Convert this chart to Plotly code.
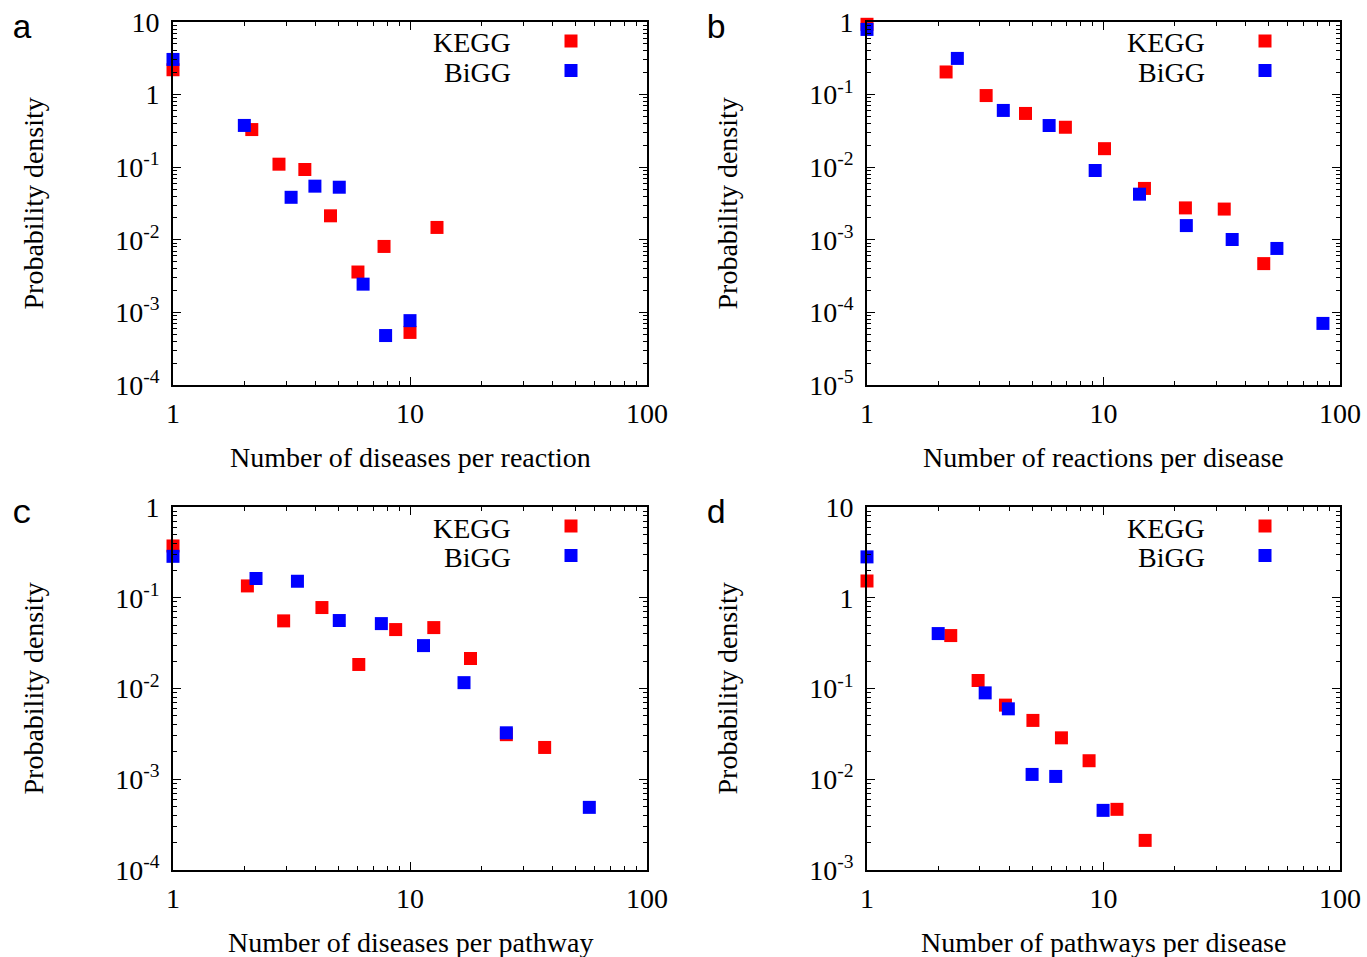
import numpy as np
import plotly.graph_objects as go

W, H = 1367, 957

# ---------------- data ----------------
# panel a: Number of diseases per reaction
a_kegg_x = [1, 2.15, 2.8, 3.6, 4.62, 6.03, 7.77, 10, 13.0]
a_kegg_y = [2.2, 0.33, 0.11, 0.093, 0.0214, 0.0036, 0.0081, 0.00053, 0.0148]
a_bigg_x = [1, 2.0, 3.15, 3.97, 5.03, 6.34, 7.89, 10]
a_bigg_y = [3.05, 0.376, 0.0385, 0.0548, 0.053, 0.00245, 0.00048, 0.00077]

# panel b: Number of reactions per disease
b_kegg_x = [1, 2.16, 3.19, 4.68, 6.9, 10.1, 14.9, 22.2, 32.4, 47.6]
b_kegg_y = [0.93, 0.205, 0.097, 0.055, 0.0355, 0.018, 0.0051, 0.00275, 0.00265, 0.00047]
b_bigg_x = [1, 2.41, 3.77, 5.89, 9.22, 14.2, 22.4, 35.0, 54.1, 84.7]
b_bigg_y = [0.79, 0.315, 0.0605, 0.0375, 0.009, 0.00425, 0.00157, 0.00101, 0.00076, 0.0000705]

# panel c: Number of diseases per pathway
c_kegg_x = [1, 2.06, 2.93, 4.25, 6.08, 8.70, 12.6, 18.0, 25.5, 37.0]
c_kegg_y = [0.372, 0.135, 0.0556, 0.078, 0.0184, 0.0446, 0.0469, 0.0214, 0.0031, 0.00224]
c_bigg_x = [1, 2.24, 3.35, 5.03, 7.57, 11.4, 16.9, 25.5, 57.1]
c_bigg_y = [0.286, 0.163, 0.152, 0.0561, 0.0519, 0.0297, 0.0116, 0.00325, 0.00049]

# panel d: Number of pathways per disease
d_kegg_x = [1, 2.26, 2.95, 3.85, 5.03, 6.64, 8.69, 11.4, 15.0]
d_kegg_y = [1.53, 0.383, 0.1225, 0.0656, 0.0445, 0.0286, 0.016, 0.00466, 0.00212]
d_bigg_x = [1, 2.0, 3.16, 3.96, 4.99, 6.28, 9.96]
d_bigg_y = [2.82, 0.403, 0.0895, 0.0597, 0.0113, 0.01074, 0.00454]

panel_letters = ["a", "b", "c", "d"]
x_titles = ["Number of diseases per reaction", "Number of reactions per disease",
            "Number of diseases per pathway", "Number of pathways per disease"]
y_title = "Probability density"
series_names = ["KEGG", "BiGG"]
series_colors = ["#ff0000", "#0000ff"]
x_exp_range = [0, 2]
y_exp_ranges = [[-4, 1], [-5, 0], [-4, 0], [-3, 1]]

# ---------------- layout geometry (screen pixels) ----------------
boxes = [(173, 647, 22, 385), (867, 1340, 22, 385),
         (173, 647, 507, 870), (867, 1340, 507, 870)]

SERIF = "Liberation Serif"
MONO = "Liberation Mono"


def fx(px):
    return px / W


def fy(py):
    return 1 - py / H


def dec_label(k):
    if k == 0:
        return "1"
    if k == 1:
        return "10"
    if k == 2:
        return "100"
    return "10<sup>%d</sup>" % k


def minor_vals(lo, hi):
    vals = []
    for k in range(lo, hi):
        for m in range(2, 10):
            vals.append(m * 10.0 ** k)
    return vals


data = [
    (a_kegg_x, a_kegg_y, a_bigg_x, a_bigg_y),
    (b_kegg_x, b_kegg_y, b_bigg_x, b_bigg_y),
    (c_kegg_x, c_kegg_y, c_bigg_x, c_bigg_y),
    (d_kegg_x, d_kegg_y, d_bigg_x, d_bigg_y),
]

fig = go.Figure()
layout = dict(
    width=W, height=H,
    margin=dict(l=0, r=0, t=0, b=0, pad=0),
    paper_bgcolor="white", plot_bgcolor="white",
    showlegend=False,
    font=dict(family=SERIF, size=28, color="black"),
)
annotations = []
shapes = []

for i, (box, (kx, ky, bx, by)) in enumerate(zip(boxes, data)):
    n = i + 1
    xs = "" if n == 1 else str(n)
    l, r, t, b = box
    ylo, yhi = y_exp_ranges[i]
    for name, color, xx, yy in [(series_names[0], series_colors[0], kx, ky),
                                (series_names[1], series_colors[1], bx, by)]:
        fig.add_trace(go.Scatter(
            x=xx, y=yy, mode="markers", name=name,
            xaxis="x" + xs, yaxis="y" + xs,
            marker=dict(symbol="square", size=13, color=color, line=dict(width=0)),
            cliponaxis=False,
        ))
    common = dict(
        type="log", ticks="inside", ticklen=8, tickwidth=1.2, tickcolor="black",
        showline=True, linewidth=1.6, linecolor="black", mirror="ticks",
        showgrid=False, zeroline=False, automargin=False,
        ticklabeloverflow="allow",
        tickfont=dict(family=SERIF, size=28, color="black"),
    )
    layout["xaxis" + xs] = dict(
        common, range=x_exp_range, domain=[fx(l), fx(r)], anchor="y" + xs,
        tickvals=[10.0 ** k for k in range(x_exp_range[0], x_exp_range[1] + 1)],
        ticktext=[dec_label(k) for k in range(x_exp_range[0], x_exp_range[1] + 1)],
        minor=dict(tickvals=minor_vals(x_exp_range[0], x_exp_range[1]), ticks="inside",
                   ticklen=4, tickwidth=1, tickcolor="black"),
        ticklabelstandoff=3,
    )
    layout["yaxis" + xs] = dict(
        common, range=[ylo, yhi], domain=[fy(b), fy(t)], anchor="x" + xs,
        tickvals=[10.0 ** k for k in range(ylo, yhi + 1)],
        ticktext=[dec_label(k) for k in range(ylo, yhi + 1)],
        minor=dict(tickvals=minor_vals(ylo, yhi), ticks="inside",
                   ticklen=4, tickwidth=1, tickcolor="black"),
        ticklabelstandoff=6,
    )
    # axis titles
    annotations.append(dict(
        text=x_titles[i], xref="paper", yref="paper",
        x=fx((l + r) / 2), y=fy(b + 72), xanchor="center", yanchor="middle",
        showarrow=False, font=dict(family=SERIF, size=28, color="black")))
    annotations.append(dict(
        text=y_title, xref="paper", yref="paper", textangle=-90,
        x=fx(l - 140), y=fy((t + b) / 2), xanchor="center", yanchor="middle",
        showarrow=False, font=dict(family=SERIF, size=28, color="black")))
    # panel letter
    annotations.append(dict(
        text=panel_letters[i], xref="paper", yref="paper",
        x=fx(l - 151), y=fy(t + 7), xanchor="center", yanchor="middle",
        showarrow=False, font=dict(family=MONO, size=34, color="black")))
    # legend (text right-aligned, key square on the right)
    for j, (name, color) in enumerate(zip(series_names, series_colors)):
        cy = t + 19 + j * 29.5
        annotations.append(dict(
            text=name, xref="paper", yref="paper",
            x=fx(l + 340), y=fy(cy + 2), xanchor="right", yanchor="middle",
            showarrow=False, font=dict(family=SERIF, size=28, color="black")))
        kx0 = l + 398
        shapes.append(dict(
            type="rect", xref="paper", yref="paper",
            x0=fx(kx0 - 6.5), x1=fx(kx0 + 6.5), y0=fy(cy + 6.5), y1=fy(cy - 6.5),
            fillcolor=color, line=dict(width=0)))

layout["annotations"] = annotations
layout["shapes"] = shapes
fig.update_layout(**layout)
fig.write_html("out.html", config={"displayModeBar": False},
               post_script="document.body.style.margin='0px';")
